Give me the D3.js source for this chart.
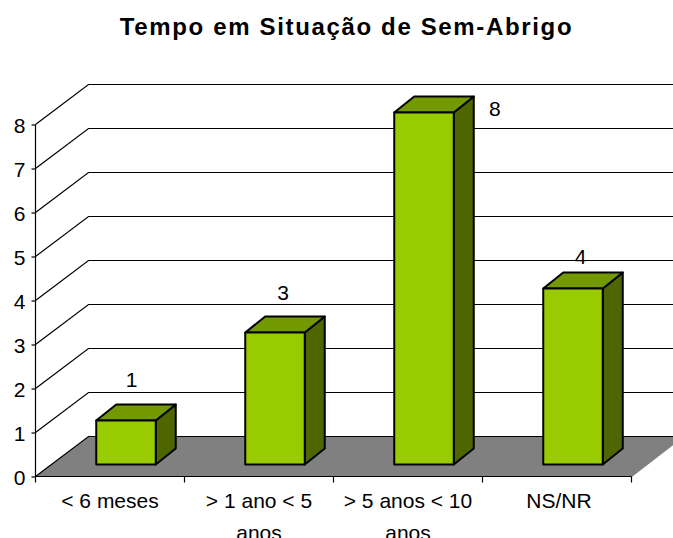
<!DOCTYPE html>
<html><head><meta charset="utf-8">
<script src="https://cdn.jsdelivr.net/npm/d3@7"></script>
<style>html,body{margin:0;padding:0;background:#fff;overflow:hidden}svg{display:block}text{font-family:"Liberation Sans",Arial,sans-serif;fill:#000}</style>
</head><body><svg id="c" width="673" height="538"></svg>
<script>
const categories=["< 6 meses","> 1 ano < 5 anos","> 5 anos < 10 anos","NS/NR"];
const categoryLines=[["< 6 meses"],["> 1 ano < 5","anos"],["> 5 anos < 10","anos"],["NS/NR"]];
const values=[1,3,8,4];
const yTicks=[0,1,2,3,4,5,6,7,8];
const title="Tempo em Situação de Sem-Abrigo";

const svg=d3.select("#c");
const x=d3.scaleBand().domain(categories).range([35.5,631.5]);
const y=d3.scaleLinear().domain([0,8]).range([476.5,124.5]);
const wallDx=53,wallDy=-40,barOx=16,barOy=-12,barDx=20,barDy=-16,barW=59.5;
const right=673;
const labelShiftX=[5.5,8,41,7.5],labelShiftY=[-33.5,-32.5,3,-24.5];

svg.append("text").attr("x",346.5).attr("y",35).attr("text-anchor","middle")
  .attr("font-size",24).attr("font-weight","bold").attr("letter-spacing",1.65).text(title);

// floor
svg.append("polygon").attr("fill","#808080")
  .attr("points",[[x.range()[0],y(0)],[x.range()[0]+wallDx,y(0)+wallDy],[right,y(0)+wallDy],[right,y(0)+wallDy+8],[x.range()[1],y(0)]].join(" "));

// gridlines
const grid=svg.append("g").attr("fill","none").attr("stroke","#000").attr("stroke-width",1.2);
yTicks.forEach(t=>{
  const x0=x.range()[0],yy=y(t);
  grid.append("path").attr("d",`M${x0},${yy}L${x0+wallDx},${yy+wallDy}L${right},${yy+wallDy}`);
});
grid.append("path").attr("d",`M${x.range()[1]},${y(0)}L${right},${y(0)+wallDy+8}`).attr("stroke","#808080");

// y axis
const yAxis=d3.axisLeft(y).tickValues(yTicks).tickSize(4).tickPadding(6);
const gy=svg.append("g").attr("transform",`translate(${x.range()[0]},0)`).call(yAxis);
gy.selectAll("text").attr("font-size",21).attr("dy","0.36em");
gy.selectAll("path,line").attr("stroke","#000").attr("stroke-width",1.2);
gy.select("path").attr("d",`M0,${y(8)}V${y(0)}`);

// x axis
svg.append("path").attr("d",`M${x.range()[0]},${y(0)}H${x.range()[1]}`).attr("stroke","#000").attr("stroke-width",1.2);
const edges=categories.map(c=>x(c)).concat(x.range()[1]);
svg.append("g").selectAll("line").data(edges).join("line")
  .attr("x1",d=>d).attr("x2",d=>d).attr("y1",y(0)).attr("y2",y(0)+6).attr("stroke","#000").attr("stroke-width",1.2);
const lab=svg.append("g").selectAll("text").data(categories).join("text")
  .attr("text-anchor","middle").attr("font-size",21);
lab.each(function(c,i){
  categoryLines[i].forEach((l,j)=>d3.select(this).append("tspan")
    .attr("x",x(c)+x.bandwidth()/2+(i===3?2:0)).attr("y",508+j*32).text(l));
});

// bars
const bars=svg.append("g").attr("stroke","#000").attr("stroke-width",2).attr("stroke-linejoin","round");
categories.forEach((c,i)=>{
  const xl=x(c)+(x.bandwidth()-barW)/2+barOx,xr=xl+barW;
  const yb=y(0)+barOy,yt=y(values[i])+barOy;
  const g=bars.append("g");
  g.append("polygon").attr("fill","#4d6600")
    .attr("points",[[xr,yb],[xr+barDx,yb+barDy],[xr+barDx,yt+barDy],[xr,yt]].join(" "));
  g.append("polygon").attr("fill","#739900")
    .attr("points",[[xl,yt],[xl+barDx,yt+barDy],[xr+barDx,yt+barDy],[xr,yt]].join(" "));
  g.append("rect").attr("x",xl).attr("y",yt).attr("width",barW).attr("height",yb-yt).attr("fill","#99cc00");
  svg.append("text").attr("font-size",21).attr("text-anchor","middle")
    .attr("x",(i===2?xr:(xl+xr)/2)+labelShiftX[i])
    .attr("y",yt+labelShiftY[i]).text(values[i]);
});
</script></body></html>
